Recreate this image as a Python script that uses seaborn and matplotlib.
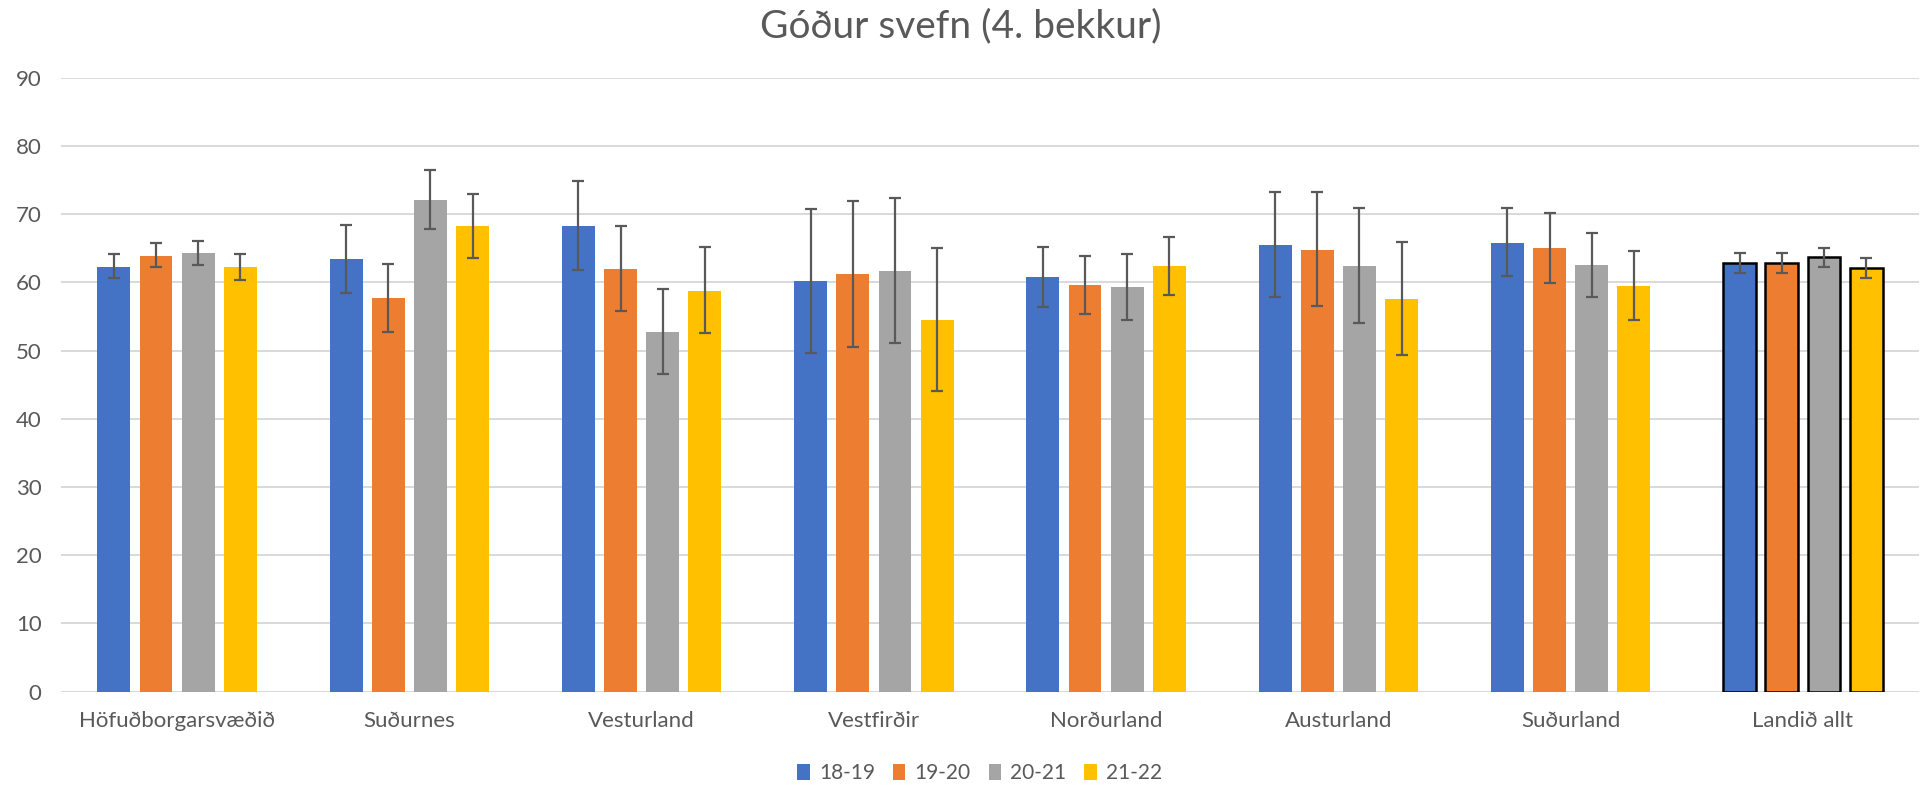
import matplotlib
matplotlib.use("Agg")
import matplotlib.pyplot as plt
import pandas as pd
import numpy as np
import seaborn as sns

# values
regions = ['Höfuðborgarsvæðið', 'Suðurnes', 'Vesturland', 'Vestfirðir',
           'Norðurland', 'Austurland', 'Suðurland', 'Landið allt']
seasons = ['18-19', '19-20', '20-21', '21-22']
colors = ['#4472C4', '#ED7D31', '#A5A5A5', '#FFC000']

mean_1819 = [62.3, 63.4, 68.3, 60.2, 60.8, 65.5, 65.8, 62.9]
mean_1920 = [63.9, 57.7, 62.0, 61.2, 59.6, 64.7, 65.0, 62.9]
mean_2021 = [64.3, 72.1, 52.7, 61.6, 59.3, 62.4, 62.5, 63.7]
mean_2122 = [62.2, 68.2, 58.8, 54.5, 62.4, 57.6, 59.5, 62.1]

low_1819 = [60.7, 58.5, 61.8, 49.7, 56.4, 57.8, 60.9, 61.4]
low_1920 = [62.2, 52.7, 55.8, 50.5, 55.4, 56.5, 59.9, 61.4]
low_2021 = [62.6, 67.8, 46.6, 51.1, 54.5, 54.1, 57.9, 62.3]
low_2122 = [60.3, 63.5, 52.6, 44.1, 58.2, 49.4, 54.5, 60.7]

high_1819 = [64.1, 68.4, 74.8, 70.8, 65.2, 73.2, 70.9, 64.3]
high_1920 = [65.8, 62.7, 68.3, 71.9, 63.9, 73.2, 70.2, 64.3]
high_2021 = [66.1, 76.5, 59.0, 72.3, 64.1, 70.9, 67.3, 65.1]
high_2122 = [64.1, 73.0, 65.2, 65.0, 66.7, 65.9, 64.6, 63.5]

means = [mean_1819, mean_1920, mean_2021, mean_2122]
lows = [low_1819, low_1920, low_2021, low_2122]
highs = [high_1819, high_1920, high_2021, high_2122]

rows = []
for s, m in zip(seasons, means):
    for r, v in zip(regions, m):
        rows.append({'region': r, 'season': s, 'value': v})
df = pd.DataFrame(rows)

sns.set_theme(style="white")
plt.rcParams['font.family'] = ['Lato', 'DejaVu Sans']
text_col = '#595959'

fig = plt.figure(figsize=(19.21, 7.89), dpi=100)
ax = fig.add_axes([61 / 1921, 97.3 / 789, 1858 / 1921, 614 / 789])

sns.barplot(data=df, x='region', y='value', hue='season', order=regions,
            hue_order=seasons, palette=colors, saturation=1, width=0.726,
            gap=0.22, linewidth=0, errorbar=None, legend=True, ax=ax)

# error bars from the drawn bars
bar_conts = list(ax.containers)
for i, cont in enumerate(bar_conts):
    bars = list(cont)
    xs = [b.get_x() + b.get_width() / 2 for b in bars]
    ys = np.array([b.get_height() for b in bars])
    yerr = [ys - np.array(lows[i]), np.array(highs[i]) - ys]
    ax.errorbar(xs, ys, yerr=yerr, fmt='none', ecolor='#595959',
                elinewidth=1.6, capsize=4.5, capthick=1.6, zorder=3)
    # national total drawn with black outline
    bars[-1].set_edgecolor('black')
    bars[-1].set_linewidth(1.8)

ax.set_ylim(0, 90)
ax.set_xlim(-0.5, len(regions) - 0.5)
ax.set_yticks(range(0, 91, 10))
ax.yaxis.grid(True, color='#D9D9D9', linewidth=1.4)
ax.set_axisbelow(True)
for sp in ax.spines.values():
    sp.set_visible(False)
ax.axhline(0, color='#D9D9D9', linewidth=1.4, zorder=0)
ax.tick_params(axis='both', length=0, labelsize=16, colors=text_col)
ax.tick_params(axis='x', pad=14)
ax.tick_params(axis='y', pad=14)
ax.set_xlabel('')
ax.set_ylabel('')

fig.suptitle('Góður svefn (4. bekkur)', fontsize=28, color=text_col, y=0.99)

handles, labels = ax.get_legend_handles_labels()
ax.legend(handles, labels, loc='lower center', bbox_to_anchor=(0.51, -0.006),
          bbox_transform=fig.transFigure, ncol=4, frameon=False, fontsize=15,
          labelcolor=text_col, handlelength=0.6, handleheight=0.85,
          handletextpad=0.45, columnspacing=0.85, borderpad=0)

fig.savefig('out.png', dpi=100)
